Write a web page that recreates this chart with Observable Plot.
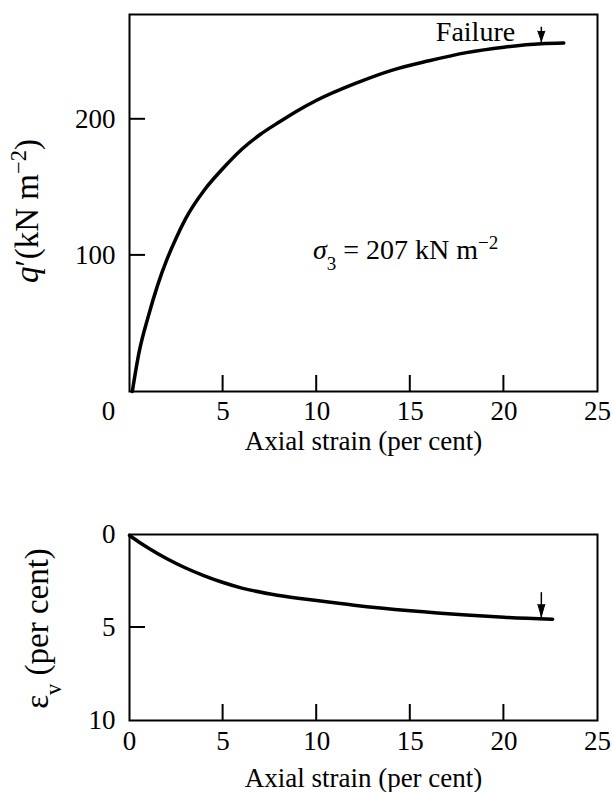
<!DOCTYPE html>
<html><head><meta charset="utf-8">
<script src="https://cdn.jsdelivr.net/npm/d3@7"></script>
<script src="https://cdn.jsdelivr.net/npm/@observablehq/plot@0.6"></script>
<style>
body{margin:0;background:#fff;}
#wrap{position:relative;width:612px;height:792px;background:#fff;}
#topChart,#botChart{position:absolute;left:0;}
#topChart{top:0px}
#botChart{top:500px}
</style></head><body><div id="wrap"><div id="topChart"></div><div id="botChart"></div></div>
<script>
// ---- data ----
const xTickMarks = [5, 10, 15, 20];
const xTickLabels = [0, 5, 10, 15, 20, 25];
const qTicks = [100, 200];
const evTicks = [0, 5, 10];
const evTickMarks = [5];

// deviator stress q' (kN/m2) vs axial strain (%)
const qStrain = [0.15, 0.5, 1.0, 1.5, 2.0, 2.5, 3.0, 4.0, 5.0, 6.0, 7.0, 8.0, 9.0, 10, 12, 14, 16, 18, 20, 22, 23.2];
const qValues = [0, 28, 55, 78, 97, 113, 127, 148, 164, 178, 189, 198, 206.5, 214, 226, 236, 243, 249, 253, 255.5, 256];

// volumetric strain (%) vs axial strain (%)
const evStrain = [0, 0.5, 1.0, 2.0, 3.0, 4, 5, 6, 8, 10, 12, 15, 18, 20, 22.6];
const evValues = [0.05, 0.4, 0.72, 1.3, 1.8, 2.22, 2.58, 2.88, 3.28, 3.55, 3.8, 4.1, 4.33, 4.45, 4.55];

// annotations
const failureStrain = [22];
const failureArrowQ = [268, 256];
const failureArrowEv = [3.1, 4.5];
const failureLabel = ["Failure"];
const failureLabelPos = [20.6, 264];
const sigmaLabel = ["σ3 = 207 kN m-2"];
const sigmaLabelPos = [9.8, 104];
const qAxisTitle = ["q'(kN m-2)"];
const evAxisTitle = ["ev (per cent)"];
const xAxisTitle = ["Axial strain (per cent)"];

const qData = qStrain.map((x, i) => ({x, y: qValues[i]}));
const evData = evStrain.map((x, i) => ({x, y: evValues[i]}));

const FONT = "Liberation Serif, Times New Roman, serif";
const W = 612, ML = 129, MR = 15;
const frameW = W - ML - MR;
const xDomain = [0, 25];
const qDomain = [0, 277];
const evDomain = [0, 10];
const TICK_PX = 16;

// ---- top chart ----
const topH = 460, topMT = 14, topMB = 69;
const chartTop = Plot.plot({
  width: W, height: topH,
  marginLeft: ML, marginRight: MR, marginTop: topMT, marginBottom: topMB,
  style: {fontFamily: FONT, fontSize: "27px", color: "black", background: "white"},
  x: {domain: xDomain},
  y: {domain: qDomain},
  marks: [
    Plot.frame({stroke: "black", strokeWidth: 2}),
    Plot.axisX(xTickLabels.filter(d => d > 0), {tickSize: 0, tickPadding: 9, label: null, fontSize: 27}),
    Plot.axisX(xTickLabels.filter(d => d === 0), {tickSize: 0, tickPadding: 9, dx: -21, label: null, fontSize: 27}),
    Plot.axisY(qTicks, {tickSize: 0, tickPadding: 14, label: null, fontSize: 27}),
    Plot.line(qData, {x: "x", y: "y", stroke: "black", strokeWidth: 3.5, curve: "monotone-x"}),
    Plot.link(failureStrain, {x1: d => d, x2: d => d, y1: failureArrowQ[0], y2: failureArrowQ[1], stroke: "black", strokeWidth: 1.5}),
    Plot.vector(failureStrain, {x: d => d, y: failureArrowQ[1] + 1.5, rotate: 180, length: 10, r: 3.5, shape: "spike", anchor: "end", fill: "black", stroke: "black", strokeWidth: 1}),
    Plot.text(failureLabel, {x: failureLabelPos[0], y: failureLabelPos[1], text: d => d, textAnchor: "end", fontSize: 28}),
    Plot.text(sigmaLabel, {x: sigmaLabelPos[0], y: sigmaLabelPos[1], text: d => d, textAnchor: "start", fontSize: 28}),
    Plot.text(qAxisTitle, {frameAnchor: "left", text: d => d, textAnchor: "middle", lineAnchor: "middle", dx: -102, dy: 8, rotate: -90, fontSize: 33}),
    Plot.text(xAxisTitle, {frameAnchor: "bottom", text: d => d, textAnchor: "middle", lineAnchor: "middle", dy: 50, fontSize: 27})
  ]
});

// ---- bottom chart ----
const botH = 292, botMT = 34, botMB = 72;
const chartBot = Plot.plot({
  width: W, height: botH,
  marginLeft: ML, marginRight: MR, marginTop: botMT, marginBottom: botMB,
  style: {fontFamily: FONT, fontSize: "27px", color: "black", background: "white"},
  x: {domain: xDomain},
  y: {domain: evDomain, reverse: true},
  marks: [
    Plot.frame({stroke: "black", strokeWidth: 2}),
    Plot.axisX(xTickLabels, {tickSize: 0, tickPadding: 10, label: null, fontSize: 27}),
    Plot.axisY(evTicks, {tickSize: 0, tickPadding: 14, label: null, fontSize: 27}),
    Plot.line(evData, {x: "x", y: "y", stroke: "black", strokeWidth: 3.5, curve: "monotone-x"}),
    Plot.link(failureStrain, {x1: d => d, x2: d => d, y1: failureArrowEv[0], y2: failureArrowEv[1], stroke: "black", strokeWidth: 1.5}),
    Plot.vector(failureStrain, {x: d => d, y: failureArrowEv[1] - 0.1, rotate: 180, length: 12, r: 3.5, shape: "spike", anchor: "end", fill: "black", stroke: "black", strokeWidth: 1}),
    Plot.text(evAxisTitle, {frameAnchor: "left", text: d => d, textAnchor: "middle", lineAnchor: "middle", dx: -92, dy: 1, rotate: -90, fontSize: 33}),
    Plot.text(xAxisTitle, {frameAnchor: "bottom", text: d => d, textAnchor: "middle", lineAnchor: "middle", dy: 58, fontSize: 27})
  ]
});

document.getElementById("topChart").appendChild(chartTop);
document.getElementById("botChart").appendChild(chartBot);

// ---- inward ticks, positioned with each chart's own Plot scales ----
function inwardTicks(chart, xs, ys, yBase) {
  const sx = chart.scale("x"), sy = chart.scale("y");
  const g = d3.select(chart).append("g").attr("stroke", "black").attr("stroke-width", 2);
  const yb = sy.apply(yBase), xb = sx.apply(xDomain[0]);
  for (const v of xs) {
    const px = sx.apply(v);
    g.append("line").attr("x1", px).attr("x2", px).attr("y1", yb).attr("y2", yb - TICK_PX);
  }
  for (const v of ys) {
    const py = sy.apply(v);
    g.append("line").attr("x1", xb).attr("x2", xb + TICK_PX).attr("y1", py).attr("y2", py);
  }
}
inwardTicks(chartTop, xTickMarks, qTicks, qDomain[0]);
inwardTicks(chartBot, xTickMarks, evTickMarks, evDomain[1]);

// ---- rich text (sub/superscripts) ----
function rich(svg, key, parts) {
  d3.select(svg).selectAll("text").filter(function() { return this.textContent === key; }).each(function() {
    const t = d3.select(this);
    t.text(null);
    for (const p of parts) {
      const s = t.append("tspan").text(p.t);
      if (p.italic) s.attr("font-style", "italic");
      if (p.sup) s.attr("baseline-shift", "super").attr("font-size", "0.68em");
      if (p.sub) s.attr("baseline-shift", "sub").attr("font-size", "0.68em");
    }
  });
}
rich(chartTop, sigmaLabel[0], [{t: "σ", italic: true}, {t: "3", sub: true}, {t: " = 207 kN m"}, {t: "−2", sup: true}]);
rich(chartTop, qAxisTitle[0], [{t: "q", italic: true}, {t: "′(kN m"}, {t: "−2", sup: true}, {t: ")"}]);
rich(chartBot, evAxisTitle[0], [{t: "ε"}, {t: "v", sub: true}, {t: " (per cent)"}]);
</script>
</body></html>
